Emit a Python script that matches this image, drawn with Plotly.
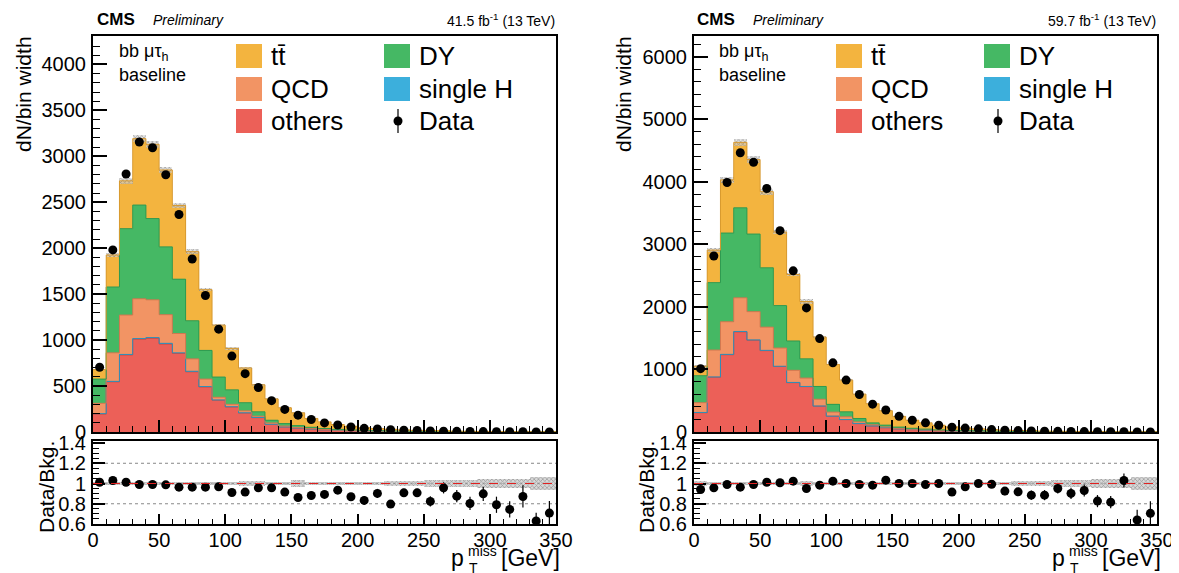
import numpy as np
import plotly.graph_objects as go

W, H = 1179, 573
OFF = 8  # page body margin of the html output

# ---------------- data ----------------
bin_edges = list(range(0, 360, 10))
bin_centers = [e + 5 for e in bin_edges[:-1]]

# Left panel (41.5 fb-1)
L_others = [195,546,838,1010,1020,957,855,655,490,345,272,206,156,83,54,43,32,24,18,14,11,8,6.5,5,4,3,2.5,2,1.6,1.3,1,0.8,0.7,0.5,0.4]
L_singleH = [5,5,6,7,8,8,7,6,5,4,3,3,2,1,1,1,0.5,0.4,0.3,0.2,0.2,0.1,0.1,0.1,0.1,0.1,0.05,0.05,0.05,0.04,0.03,0.03,0.02,0.02,0.02]
L_qcd = [112,311,429,433,411,312,210,135,81,29,26,22,14,15,10,6,4,3,2,2,1.5,1,1,0.8,0.6,0.5,0.4,0.3,0.3,0.2,0.2,0.15,0.1,0.1,0.1]
L_dy = [264,716,940,1020,884,738,591,415,312,220,158,88,48,29,27,20,15,11,8,6,5,4,3,2.5,2,1.5,1.2,1,0.8,0.6,0.5,0.4,0.3,0.25,0.2]
L_tt = [103,349,521,723,808,837,803,752,661,565,451,378,294,232,172,139,96,72,53,40,30,24,19,15,11,9,7,5.5,4.3,3.4,2.8,2.2,1.8,1.4,1.1]
L_data = [705,1982,2808,3156,3094,2800,2367,1883,1486,1119,826,635,484,341,246,183,136,99,76,54,40,33,24,20,16,11,9,7,5.2,4.5,3.3,2.5,2.3,1.2,1.1]
L_ratio = [1.013,1.03,1.013,0.99,0.99,0.987,0.964,0.964,0.964,0.967,0.911,0.915,0.957,0.957,0.915,0.862,0.882,0.892,0.934,0.869,0.833,0.902,0.797,0.908,0.908,0.823,0.957,0.875,0.803,0.898,0.79,0.744,0.872,0.63,0.708]
L_ratio_err = [0.005,0.005,0.005,0.005,0.005,0.005,0.006,0.007,0.008,0.009,0.011,0.013,0.015,0.018,0.02,0.023,0.026,0.03,0.033,0.037,0.04,0.045,0.03,0.04,0.04,0.05,0.055,0.06,0.065,0.07,0.08,0.08,0.11,0.08,0.12]
L_unc = [0.012]*10 + [0.015,0.02,0.02,0.015,0.015,0.03,0.015,0.015,0.015,0.015,0.015,0.015,0.025,0.025,0.025,0.035,0.03,0.03,0.03,0.04,0.04,0.04,0.04,0.06,0.06]

# Right panel (59.7 fb-1)
R_others = [307,875,1235,1600,1466,1300,1047,788,725,413,252,198,134,96,69,50,38,29,21,16,12.5,10,8,6,4.8,3.7,3,2.3,1.8,1.4,1.1,0.9,0.7,0.55,0.45]
R_singleH = [5,5,6,7,6,5,4,4,3,2,1,1,1,1,0.5,0.5,0.4,0.3,0.3,0.2,0.2,0.1,0.1,0.1,0.1,0.1,0.05,0.05,0.05,0.04,0.03,0.03,0.02,0.02,0.02]
R_qcd = [157,430,522,538,452,371,291,194,134,108,65,44,27,20,12,8,6,5,4,3,2.5,2,1.5,1.2,1,0.8,0.6,0.5,0.4,0.3,0.25,0.2,0.15,0.12,0.1]
R_dy = [431,1078,1417,1439,1240,949,679,469,308,205,124,80,54,29,28,20,15,12,9,7,5.5,4.3,3.3,2.5,2,1.6,1.3,1,0.8,0.6,0.5,0.4,0.3,0.25,0.2]
R_tt = [150,520,850,1046,1191,1217,1175,1063,916,789,638,507,390,306,231,171,129,101,74,57,44,34,26,21,16,12.4,9.8,7.8,6,4.8,3.7,2.9,2.3,1.9,1.45]
R_data = [1013,2814,3989,4463,4312,3892,3218,2576,1984,1493,1105,830,600,445,352,250,188,146,108,76,63,50,39,28,22,16.5,13,11,8.2,6.6,4.6,3.6,3.6,1.8,1.6]
R_ratio = [0.941,0.957,0.99,0.964,0.99,1.013,1.007,1.023,0.951,0.984,1.023,1.0,0.99,0.984,1.033,1.0,1.0,0.99,1.0,0.915,0.967,1.0,0.993,0.925,0.918,0.885,0.885,0.951,0.902,0.931,0.826,0.816,1.03,0.64,0.705]
R_ratio_err = [0.004,0.004,0.004,0.004,0.004,0.004,0.005,0.005,0.006,0.007,0.008,0.01,0.012,0.014,0.016,0.018,0.02,0.022,0.025,0.028,0.03,0.033,0.036,0.04,0.04,0.045,0.05,0.05,0.055,0.06,0.06,0.06,0.07,0.1,0.12]
R_unc = [0.02] + [0.012]*7 + [0.02] + [0.012]*11 + [0.015]*4 + [0.025]*3 + [0.03]*3 + [0.04]*3 + [0.06]*2

process_names = ["others", "single H", "QCD", "DY", "tt̄"]
process_colors = ["#EC6058", "#3CAFDC", "#F29464", "#45B864", "#F3B43F"]
edge_colors = ["#C84A44", "#2F8FB8", "#D07850", "#2F9A50", "#D89A30"]

panels = [
    dict(procs=[L_others, L_singleH, L_qcd, L_dy, L_tt], data=L_data, ratio=L_ratio,
         rerr=L_ratio_err, unc=L_unc, lumi="41.5 fb<sup>-1</sup> (13 TeV)",
         ymax=4310, ydtick=500, yminor=100, dx=0),
    dict(procs=[R_others, R_singleH, R_qcd, R_dy, R_tt], data=R_data, ratio=R_ratio,
         rerr=R_ratio_err, unc=R_unc, lumi="59.7 fb<sup>-1</sup> (13 TeV)",
         ymax=6330, ydtick=1000, yminor=200, dx=601),
]

FONT = "Liberation Sans, Arial, Helvetica, sans-serif"


def px(x):
    return (x - OFF) / W


def py(y):
    return 1 - (y - OFF) / H


fig = go.Figure()
annotations = []
shapes = []

edges_arr = np.array(bin_edges, dtype=float)
centers_arr = np.array(bin_centers, dtype=float)

for k, p in enumerate(panels):
    xm = "x" if k == 0 else "x3"
    ym = "y" if k == 0 else "y3"
    xr = "x2" if k == 0 else "x4"
    yr = "y2" if k == 0 else "y4"
    cum = np.cumsum(np.array(p["procs"], dtype=float), axis=0)
    total = cum[-1]
    for i in reversed(range(len(process_names))):
        fig.add_trace(go.Bar(x=centers_arr, y=cum[i], width=10, xaxis=xm, yaxis=ym,
                             marker=dict(color=process_colors[i], line=dict(width=0)),
                             showlegend=False, hoverinfo="skip"))
    for i in range(len(process_names)):
        fig.add_trace(go.Scatter(x=edges_arr, y=np.append(cum[i], cum[i][-1]), mode="lines",
                                 line=dict(shape="hv", color=edge_colors[i], width=1),
                                 xaxis=xm, yaxis=ym, showlegend=False, hoverinfo="skip"))
    unc = np.array(p["unc"])
    fig.add_trace(go.Bar(x=centers_arr, y=2 * unc * total, base=total * (1 - unc), width=10,
                         xaxis=xm, yaxis=ym,
                         marker=dict(color="rgba(210,210,210,0.6)", line=dict(width=0),
                                     pattern=dict(shape="x", fgcolor="#555", size=3, solidity=0.4)),
                         showlegend=False, hoverinfo="skip"))
    fig.add_trace(go.Scatter(x=centers_arr, y=p["data"], mode="markers",
                             marker=dict(color="black", size=9), xaxis=xm, yaxis=ym,
                             showlegend=False))
    # ratio panel
    fig.add_trace(go.Bar(x=centers_arr, y=2 * unc, base=1 - unc, width=10, xaxis=xr, yaxis=yr,
                         marker=dict(color="rgba(200,200,200,0.7)", line=dict(width=0),
                                     pattern=dict(shape="x", fgcolor="#555", size=3, solidity=0.4)),
                         showlegend=False, hoverinfo="skip"))
    for g in [0.8, 1.0, 1.2]:
        shapes.append(dict(type="line", xref=xr, yref=yr, x0=bin_edges[0], x1=bin_edges[-1],
                           y0=g, y1=g, line=dict(color="#888", width=1, dash="dot"), layer="below"))
    shapes.append(dict(type="line", xref=xr, yref=yr, x0=bin_edges[0], x1=bin_edges[-1],
                       y0=1, y1=1, line=dict(color="#E02020", width=1, dash="dash")))
    fig.add_trace(go.Scatter(x=centers_arr, y=p["ratio"], mode="markers",
                             marker=dict(color="black", size=9),
                             error_y=dict(type="data", array=p["rerr"], color="black",
                                          thickness=1.2, width=0),
                             xaxis=xr, yaxis=yr, showlegend=False))

    dx = p["dx"]
    tx = 600 if k == 1 else 0
    x0d, x1d = px(93 + dx), px(556 + dx)
    common = dict(showline=True, linecolor="black", linewidth=2, mirror=True, ticks="inside",
                  tickcolor="black", tickwidth=1.5, showgrid=False, zeroline=False,
                  tickfont=dict(family=FONT, size=20, color="black"), automargin=False)
    mainx = dict(common, domain=[x0d, x1d], range=[0, 350], dtick=50, ticklen=12,
                 showticklabels=False, anchor=ym,
                 minor=dict(dtick=10, ticklen=6, ticks="inside", tickcolor="black", tickwidth=1))
    ratx = dict(common, domain=[x0d, x1d], range=[0, 350], dtick=50, ticklen=10, anchor=yr,
                matches=xm, ticklabelstandoff=-3,
                minor=dict(dtick=10, ticklen=5, ticks="inside", tickcolor="black", tickwidth=1))
    mainy = dict(common, domain=[py(432), py(36)], range=[0, p["ymax"]], dtick=p["ydtick"],
                 ticklen=14, anchor=xm, ticklabelstandoff=1,
                 minor=dict(dtick=p["yminor"], ticklen=7, ticks="inside", tickcolor="black", tickwidth=1))
    raty = dict(common, domain=[py(524), py(441)], range=[0.6, 1.42],
                tickvals=[0.6, 0.8, 1.0, 1.2, 1.4], ticktext=["0.6", "0.8", "1", "1.2", "1.4"],
                ticklen=12, anchor=xr, ticklabelstandoff=1,
                minor=dict(dtick=0.05, ticklen=6, ticks="inside", tickcolor="black", tickwidth=1))
    sfx = "" if k == 0 else "3"
    sfx2 = "2" if k == 0 else "4"
    fig.update_layout(**{"xaxis" + sfx: mainx, "xaxis" + sfx2: ratx,
                         "yaxis" + sfx: mainy, "yaxis" + sfx2: raty})

    def ann(x, y, text, size, xanchor="left", angle=0, yanchor="middle"):
        annotations.append(dict(x=px(x), y=py(y), xref="paper", yref="paper", text=text,
                                showarrow=False, xanchor=xanchor, yanchor=yanchor, textangle=angle,
                                font=dict(family=FONT, size=size, color="black")))

    ann(95 + tx, 19, "<b>CMS</b>", 17)
    ann(151 + tx, 20, "<i>Preliminary</i>", 14)
    ann(557 + dx, 20, p["lumi"], 14, xanchor="right")
    ann(117 + tx, 52, "bb μτ<sub>h</sub>", 18)
    ann(117 + tx, 75, "baseline", 18)
    ann(23 + tx, 94, "dN/bin width", 21, xanchor="center", angle=-90)
    ann(46 + tx, 487, "Data/Bkg.", 21, xanchor="center", angle=-90)
    # x-axis title: p_T^miss [GeV]
    ann(562 + dx, 558, "[GeV]", 23, xanchor="right")
    ann(466 + dx, 558, "p", 23, xanchor="right")
    ann(466 + dx, 551, "miss", 14)
    ann(467 + dx, 568, "T", 14)

    # legend
    col1 = [(4, 56), (2, 89), (0, 121)]
    col2 = [(3, 56), (1, 89)]
    for (i, yc) in col1:
        shapes.append(dict(type="rect", xref="paper", yref="paper", x0=px(236 + tx), x1=px(262 + tx),
                           y0=py(yc + 12), y1=py(yc - 12), fillcolor=process_colors[i],
                           line=dict(width=0)))
        ann(269 + tx, yc, process_names[i], 26)
    for (i, yc) in col2:
        shapes.append(dict(type="rect", xref="paper", yref="paper", x0=px(384 + tx), x1=px(410 + tx),
                           y0=py(yc + 12), y1=py(yc - 12), fillcolor=process_colors[i],
                           line=dict(width=0)))
        ann(417 + tx, yc, process_names[i], 26)
    shapes.append(dict(type="line", xref="paper", yref="paper", x0=px(398 + tx), x1=px(398 + tx),
                       y0=py(109), y1=py(133), line=dict(color="black", width=1.2)))
    shapes.append(dict(type="circle", xref="paper", yref="paper", x0=px(393.5 + tx), x1=px(402.5 + tx),
                       y0=py(125.5), y1=py(116.5), fillcolor="black", line=dict(width=0)))
    ann(417 + tx, 121, "Data", 26)

fig.update_layout(width=W, height=H, margin=dict(l=0, r=0, t=0, b=0),
                  paper_bgcolor="white", plot_bgcolor="white",
                  barmode="overlay", bargap=0, showlegend=False,
                  annotations=annotations, shapes=shapes)

fig.write_html("out.html")
